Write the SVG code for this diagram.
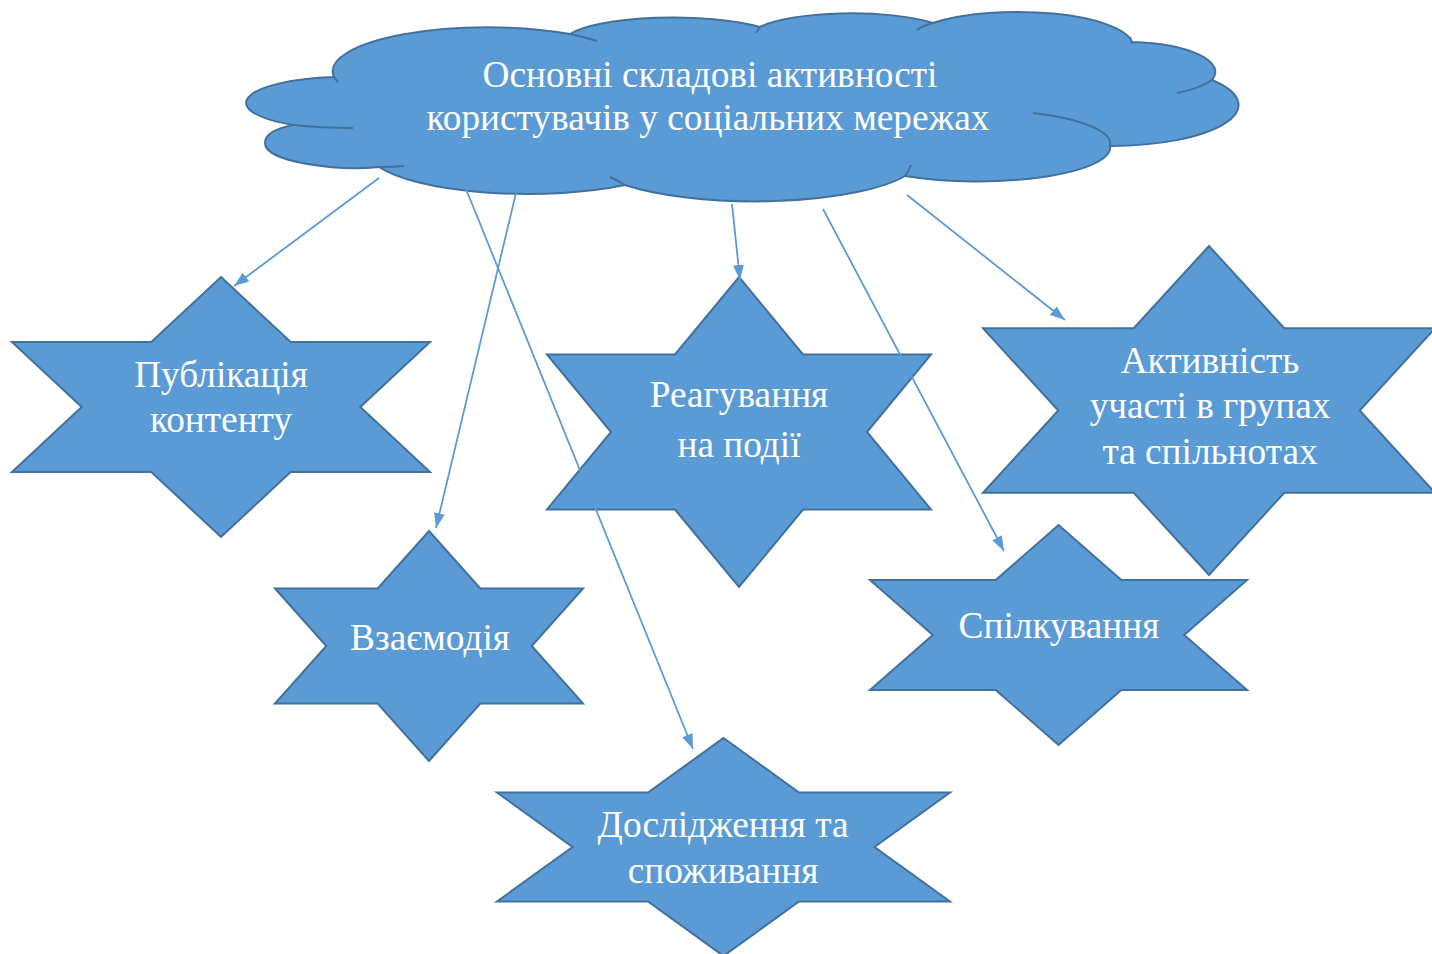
<svg xmlns="http://www.w3.org/2000/svg" width="1432" height="954" viewBox="0 0 1432 954">
<style>
.shape{fill:#5B9BD5;stroke:#41719C;stroke-width:2;stroke-linejoin:miter}
.inner{fill:none;stroke:#41719C;stroke-width:2}
.lbl{font-family:"Liberation Serif","Times New Roman",serif;font-size:37.3px;fill:#FFFFFF;text-anchor:middle}
.conn{fill:none;stroke:#5B9BD5;stroke-width:1.8;marker-end:url(#arr)}
</style>
<defs>
<marker id="arr" viewBox="0 0 15 11" refX="15" refY="5.5" markerWidth="15" markerHeight="11" markerUnits="userSpaceOnUse" orient="auto">
<path d="M0,0 L15,5.5 L0,11 z" fill="#5B9BD5"/>
</marker>
</defs>
<rect width="1432" height="954" fill="#FFFFFF"/>
<g id="cloud">
<path class="shape" d="M 334 77 A 155 44 0 0 1 570 34 A 110 25 0 0 1 760 27 A 100 23 0 0 1 933 23 A 115 34 0 0 1 1132 42 A 90 30 0 0 1 1212 80 A 128 41 0 0 1 1110 146 A 133 34 0 0 1 905 176 A 165 43 0 0 1 625 185 A 160 43 0 0 1 379 167 C 340 171 265 163 265 143 C 265 134 277 128 294 125 A 100 26 0 0 1 334 77 Z"/>
<path class="inner" d="M 570 34 A 155 44 0 0 1 597 41 M 760 27 Q 758 30 756 33 M 933 23 Q 924 25 917 30 M 1130 37 L 1132 44 M 1212 80 A 90 30 0 0 1 1177 93 M 1110 146 A 133 34 0 0 0 1033 113 M 905 176 Q 909 171 911 165 M 625 185 Q 617 180 610 177 M 379 167 Q 392 167 404 166 M 294 125 Q 320 128 353 128 M 334 77 Q 336 80 338 82"/>
<text class="lbl" x="710" y="87">Основні складові активності</text>
<text class="lbl" x="708" y="130">користувачів у соціальних мережах</text>
</g>
<g id="n-publikatsiia">
<polygon class="shape" points="221,277 290.7,342 430,342 360.3,407 430,472 290.7,472 221,537 151.3,472 12,472 81.7,407 12,342 151.3,342"/>
<text class="lbl" x="221" y="387">Публікація</text>
<text class="lbl" x="221" y="432">контенту</text>
</g>
<g id="n-vzaiemodiia">
<polygon class="shape" points="429,531 480.3,588.5 583,588.5 531.7,646 583,703.5 480.3,703.5 429,761 377.7,703.5 275,703.5 326.3,646 275,588.5 377.7,588.5"/>
<text class="lbl" x="430" y="650">Взаємодія</text>
</g>
<g id="n-reahuvannia">
<polygon class="shape" points="739,277 803,354.5 931,354.5 867,432 931,509.5 803,509.5 739,587 675,509.5 547,509.5 611,432 547,354.5 675,354.5"/>
<text class="lbl" x="739" y="407">Реагування</text>
<text class="lbl" x="739" y="457">на події</text>
</g>
<g id="n-aktyvnist">
<polygon class="shape" points="1209,246 1284.3,328.25 1435,328.25 1359.7,410.5 1435,492.75 1284.3,492.75 1209,575 1133.7,492.75 983,492.75 1058.3,410.5 983,328.25 1133.7,328.25"/>
<text class="lbl" x="1210" y="373">Активність</text>
<text class="lbl" x="1210" y="418">участі в групах</text>
<text class="lbl" x="1210" y="464">та спільнотах</text>
</g>
<g id="n-spilkuvannia">
<polygon class="shape" points="1058.5,525 1121.3,580 1247,580 1184.2,635 1247,690 1121.3,690 1058.5,745 995.7,690 870,690 932.8,635 870,580 995.7,580"/>
<text class="lbl" x="1059" y="638">Спілкування</text>
</g>
<g id="n-doslidzhennia">
<polygon class="shape" points="723.5,738 799,792.5 950,792.5 874.5,847 950,901.5 799,901.5 723.5,956 648,901.5 497,901.5 572.5,847 497,792.5 648,792.5"/>
<text class="lbl" x="723" y="837">Дослідження та</text>
<text class="lbl" x="723" y="883">споживання</text>
</g>
<g id="connectors">
<line class="conn" x1="379" y1="178" x2="234" y2="286"/>
<line class="conn" x1="516" y1="193" x2="436" y2="528"/>
<line class="conn" x1="466" y1="189" x2="693" y2="749"/>
<line class="conn" x1="732" y1="204" x2="740" y2="280"/>
<line class="conn" x1="823" y1="209" x2="1004" y2="551"/>
<line class="conn" x1="907" y1="195" x2="1065" y2="320"/>
</g>
</svg>
